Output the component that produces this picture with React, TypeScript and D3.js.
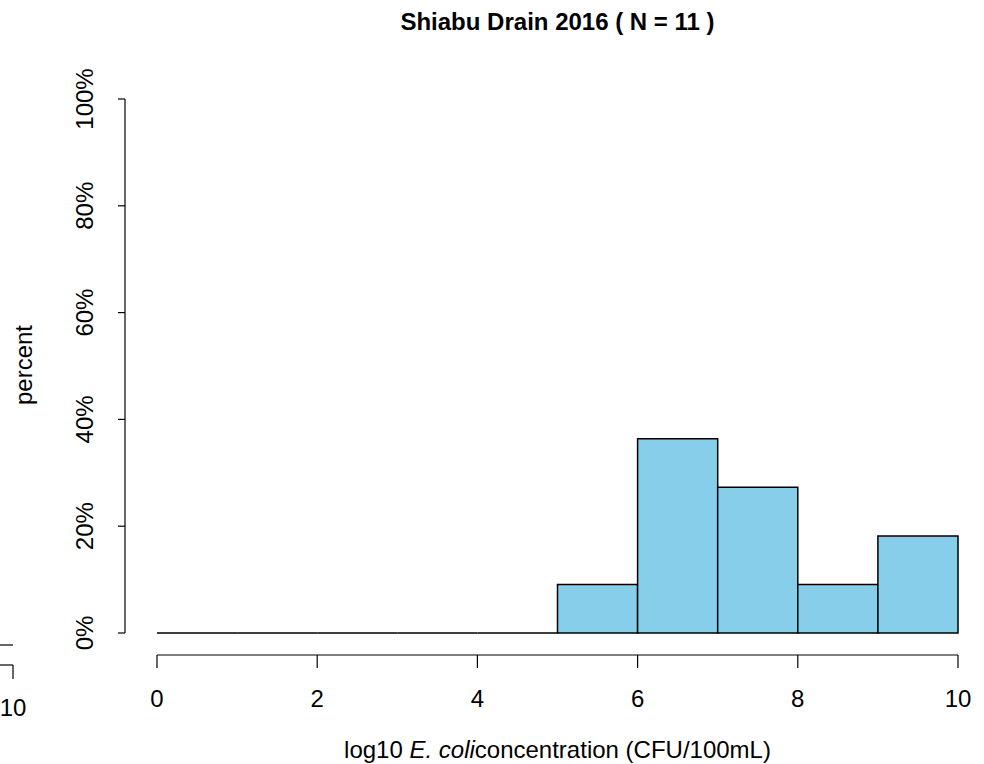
import React from "react";
import * as d3 from "d3";

const binEdges = [0, 1, 2, 3, 4, 5, 6, 7, 8, 9, 10];
const counts = [0, 0, 0, 0, 0, 1, 4, 3, 1, 2];
const totalN = 11;
const xTicks = [0, 2, 4, 6, 8, 10];
const yTicks = [0, 20, 40, 60, 80, 100];
const titleText = "Shiabu Drain 2016 ( N = 11 )";

export default function App() {
  const W = 984, H = 764;
  const x = d3.scaleLinear().domain([0, 10]).range([157, 958]);
  const y = d3.scaleLinear().domain([0, 100]).range([633, 99]);
  const font = "Liberation Sans, Arial, Helvetica, sans-serif";
  const bars = counts.map((c, i) => ({ x0: binEdges[i], x1: binEdges[i + 1], pct: (c / totalN) * 100 }));
  const barPath = (b: { x0: number; x1: number; pct: number }) => {
    const p = d3.path();
    p.moveTo(x(b.x0), y(0));
    p.lineTo(x(b.x0), y(b.pct));
    p.lineTo(x(b.x1), y(b.pct));
    p.lineTo(x(b.x1), y(0));
    p.closePath();
    return p.toString();
  };
  const axisY = 655;
  const tickFs = 24;
  const labFs = 24;
  return (
    <svg width={W} height={H} style={{ position: "absolute", left: 0, top: 0, background: "#fff" }} fontFamily={font}>
      <rect x={0} y={0} width={W} height={H} fill="#fff" />
      <text x={557.5} y={30} textAnchor="middle" fontWeight="bold" fontSize={24}>{titleText}</text>
      {bars.map((b, i) => (
        <path key={i} d={barPath(b)} fill="#87CEEB" stroke="#000" strokeWidth={1.5} />
      ))}
      <line x1={125} x2={125} y1={y(0)} y2={y(100)} stroke="#000" strokeWidth={1.2} />
      {yTicks.map(t => (
        <g key={t}>
          <line x1={118} x2={125} y1={y(t)} y2={y(t)} stroke="#000" strokeWidth={1.2} />
          <text transform={`translate(93,${y(t)}) rotate(-90)`} textAnchor="middle" fontSize={tickFs}>{t + "%"}</text>
        </g>
      ))}
      <text transform={`translate(32,365) rotate(-90)`} textAnchor="middle" fontSize={labFs}>percent</text>
      <line x1={x(0)} x2={x(10)} y1={axisY} y2={axisY} stroke="#000" strokeWidth={1.2} />
      {xTicks.map(t => (
        <g key={t}>
          <line x1={x(t)} x2={x(t)} y1={axisY} y2={axisY + 13} stroke="#000" strokeWidth={1.2} />
          <text x={x(t)} y={707} textAnchor="middle" fontSize={tickFs}>{t}</text>
        </g>
      ))}
      <text x={557.5} y={758} textAnchor="middle" fontSize={labFs}>
        <tspan>log10 </tspan><tspan fontStyle="italic">E. coli</tspan><tspan>concentration (CFU/100mL)</tspan>
      </text>
      <line x1={0} x2={13} y1={645} y2={645} stroke="#000" strokeWidth={1.2} />
      <line x1={0} x2={13} y1={665} y2={665} stroke="#000" strokeWidth={1.2} />
      <line x1={13} x2={13} y1={665} y2={679} stroke="#000" strokeWidth={1.2} />
      <text x={13} y={716} textAnchor="middle" fontSize={tickFs}>10</text>
    </svg>
  );
}
